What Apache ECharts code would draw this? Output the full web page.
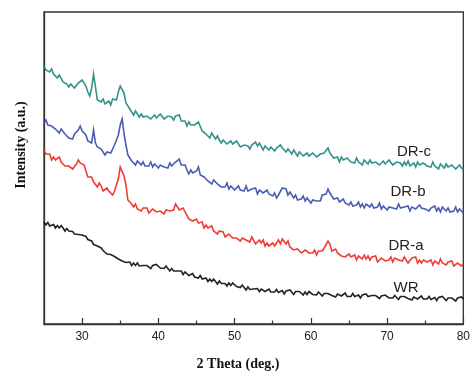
<!DOCTYPE html>
<html>
<head>
<meta charset="utf-8">
<script src="https://cdn.jsdelivr.net/npm/echarts@6/dist/echarts.min.js"></script>
<style>html,body{margin:0;padding:0;background:#fff;}#c{width:473px;height:373px;}</style>
</head>
<body>
<div id="c"></div>
<script>
const twoTheta = [
25,25.25,25.5,25.75,26,26.25,26.5,26.75,27,27.25,27.5,27.75,28,28.25,28.5,28.75,29,29.25,29.5,29.75,
30,30.25,30.5,30.75,31,31.25,31.5,31.75,32,32.25,32.5,32.75,33,33.25,33.5,33.75,34,34.25,34.5,34.75,
35,35.25,35.5,35.75,36,36.25,36.5,36.75,37,37.25,37.5,37.75,38,38.25,38.5,38.75,39,39.25,39.5,39.75,
40,40.25,40.5,40.75,41,41.25,41.5,41.75,42,42.25,42.5,42.75,43,43.25,43.5,43.75,44,44.25,44.5,44.75,
45,45.25,45.5,45.75,46,46.25,46.5,46.75,47,47.25,47.5,47.75,48,48.25,48.5,48.75,49,49.25,49.5,49.75,
50,50.25,50.5,50.75,51,51.25,51.5,51.75,52,52.25,52.5,52.75,53,53.25,53.5,53.75,54,54.25,54.5,54.75,
55,55.25,55.5,55.75,56,56.25,56.5,56.75,57,57.25,57.5,57.75,58,58.25,58.5,58.75,59,59.25,59.5,59.75,
60,60.25,60.5,60.75,61,61.25,61.5,61.75,62,62.25,62.5,62.75,63,63.25,63.5,63.75,64,64.25,64.5,64.75,
65,65.25,65.5,65.75,66,66.25,66.5,66.75,67,67.25,67.5,67.75,68,68.25,68.5,68.75,69,69.25,69.5,69.75,
70,70.25,70.5,70.75,71,71.25,71.5,71.75,72,72.25,72.5,72.75,73,73.25,73.5,73.75,74,74.25,74.5,74.75,
75,75.25,75.5,75.75,76,76.25,76.5,76.75,77,77.25,77.5,77.75,78,78.25,78.5,78.75,79,79.25,79.5,79.75,
80
];

const drC = [
258,254,256,252, 255,250,250,246, 249,247,242,244, 240,237,240,241, 236,237,241,242,
244,245,238,232, 228,236,250,237, 224,226,222,225, 220,221,223,219, 225,224,224,232,
238,236,231,221, 221,215,214,209, 213,211,207,210, 207,205,208,210, 205,207,209,206,
205,210,208,205, 203,208,206,207, 204,208,206,209, 203,202,203,198, 202,199,197,199,
201,202,203,193, 195,190,190,186, 191,189,185,188, 184,181,184,186, 180,181,183,180,
179,183,180,177, 175,179,177,178, 175,179,177,182, 178,181,180,174, 178,176,174,177,
176,173,176,174, 179,176,178,172, 175,173,170,174, 171,168,172,173, 168,170,171,168,
167,171,169,167, 165,170,169,171, 170,176,171,173, 166,165,167,162, 167,164,163,166,
165,162,164,161, 166,162,162,159, 164,163,160,164, 161,159,162,164, 159,161,163,160,
159,164,162,159, 157,162,160,161, 158,162,159,163, 158,159,161,157, 162,159,158,161,
161,158,160,157, 162,158,158,155, 160,159,156,160, 157,155,159,160, 155,157,159,156,
155
];

const drB = [
201,204,199,201, 198,200,195,197, 191,195,193,190, 191,186,187,185, 190,188,194,198,
193,192,189,183, 182,181,194,181, 177,178,175,175, 169,172,174,171, 172,179,180,189,
199,205,190,179, 169,170,163,165, 159,163,162,159, 162,158,160,158, 162,157,160,161,
156,159,160,157, 159,156,161,158, 158,162,162,165, 159,160,159,154, 150,154,151,151,
153,157,149,150, 147,149,143,145, 140,144,143,140, 142,137,139,137, 141,135,138,139,
134,136,138,134, 136,133,138,133, 132,135,134,136, 130,134,134,131, 129,134,130,129,
128,131,126,129, 130,136,135,135, 129,132,129,126, 129,124,126,125, 128,123,126,127,
121,124,126,123, 125,123,129,128, 130,135,131,130, 125,127,126,122, 121,125,121,119,
119,122,118,120, 119,122,117,120, 116,120,119,117, 120,116,118,117, 121,115,118,119,
114,117,119,116, 118,115,120,116, 115,117,116,118, 113,117,118,115, 114,119,116,115,
115,117,113,116, 115,118,113,116, 112,117,116,113, 116,112,114,113, 117,112,115,116,
111
];

const drA = [
174,170,170,170, 164,167,164,162, 167,162,164,158, 160,158,160,155, 157,160,164,161,
163,159,157,147, 148,147,142,141, 137,141,138,133, 134,136,133,135, 129,133,133,145,
157,157,148,139, 124,125,120,117, 120,115,117,113, 116,114,116,111, 113,115,117,112,
114,113,115,110, 114,115,113,115, 114,120,119,114, 115,116,112,113, 105,107,103,105,
105,101,101,102, 96,99,96,94, 98,93,95,90, 93,91,92,87, 88,90,91,86,
87,86,88,83, 86,87,84,85, 82,87,85,80, 82,84,81,84, 78,81,78,80,
81,78,80,84, 80,85,84,80, 83,77,79,74, 76,75,76,71, 73,74,76,71,
72,71,74,69, 73,75,73,76, 77,83,80,73, 74,75,71,73, 68,70,67,69,
70,67,68,69, 64,68,66,65, 69,65,68,64, 67,66,68,62, 64,66,68,63,
65,64,67,62, 66,67,64,65, 63,67,65,61, 63,66,64,67, 61,64,61,64,
65,62,62,64, 59,63,61,60, 65,61,63,59, 62,61,63,58, 60,61,63,58,
60
];

const wr = [
101.7,99,101.5,98, 99,99.5,96,98.5, 96,98.5,96,93, 95.5,93,94,92.5, 90,92,89.5,91.5,
89,87,87.5,84.5, 86,83,79.5,81, 78,78.5,76,73.5, 74,70,71.5,69.5, 67.5,67.5,69,65,
66,63,65,61.5, 62,62,58.5,61, 58.5,61,58,56, 58.5,56.5,58.5,57.5, 55.5,58.5,56.5,59.5,
57.5,56,58,55.5, 58,55.5,53,55.5, 53,54.5,53,51.5, 53,49.5,52,50, 48.5,49,50.5,47,
48.5,46,48.5,45, 45.5,46,42.5,45, 42.5,45,42.5,40, 43,40.5,42,40.5, 38,41,38.5,41,
39,37.5,39,36.5, 39,36.5,34,37, 34.5,36.5,35,34, 35.5,32.5,35,34, 32.5,33.5,35,32,
34,32,34.5,31.5, 32.5,33.5,30,33, 31,34,32,29.5, 32.5,30.5,32.5,31, 29,32,29.5,32.5,
30.5,29.5,31,29, 32,30,28,30.5, 28.5,30.5,29.5,28.5, 30.5,27,30,29, 28,29,31,27.5,
29.5,27.5,30.5,27.5, 28.5,29,26,29, 27,30,27.5,25.5, 28.5,26.5,28.5,27.5, 25.5,28,26,29,
27,26,28,26, 28.5,26.5,24.5,27.5, 25.5,27.5,26.5,25.5, 27,24,27,26, 25,26,28,25,
27,25,27.5,24.5, 25.5,26.5,23.5,26.5, 24.5,27.5,25.5,23.5, 26,24,26,25, 23,26,24,27,
25
];

const seriesNames = ['DR-c', 'DR-b', 'DR-a', 'WR'];
const seriesValues = [drC, drB, drA, wr];
const seriesColors = ['#23897f', '#3a4fac', '#ee2c25', '#111111'];
const majorTicks = [30, 40, 50, 60, 70, 80];
const minorTicks = [35, 45, 55, 65, 75];

const chart = echarts.init(document.getElementById('c'), null, {renderer: 'canvas'});

const series = seriesValues.map((vals, k) => ({
  name: seriesNames[k],
  type: 'line',
  xAxisIndex: 0,
  yAxisIndex: 0,
  showSymbol: false,
  symbol: 'none',
  data: vals.map((v, i) => [twoTheta[i], v]),
  lineStyle: {color: seriesColors[k], width: 1.6, opacity: 0.92, join: 'miter'},
  itemStyle: {color: seriesColors[k]},
  animation: false,
  silent: true
}));

chart.setOption({
  animation: false,
  backgroundColor: '#fff',
  grid: {left: 44, right: 5, top: 12, bottom: 49, show: true, borderColor: '#333', borderWidth: 1.3, containLabel: false},
  xAxis: [{
    type: 'value', min: 25, max: 80,
    axisLine: {show: true, lineStyle: {color: '#333', width: 1.3}},
    axisTick: {show: true, inside: true, length: 6, customValues: majorTicks, lineStyle: {color: '#333', width: 1.2}},
    axisLabel: {show: true, customValues: majorTicks, margin: 7, color: '#222', fontSize: 12, fontFamily: 'Liberation Sans, Arial, sans-serif'},
    splitLine: {show: false}
  }, {
    type: 'value', min: 25, max: 80, position: 'bottom', gridIndex: 0,
    axisLine: {show: false},
    axisTick: {show: true, inside: true, length: 3.5, customValues: minorTicks, lineStyle: {color: '#333', width: 1.2}},
    axisLabel: {show: false},
    splitLine: {show: false}
  }],
  yAxis: {
    type: 'value', min: 0, max: 312,
    axisLine: {show: true, lineStyle: {color: '#333', width: 1.3}},
    axisTick: {show: false},
    axisLabel: {show: false},
    splitLine: {show: false}
  },
  series: series,
  graphic: [
    {type: 'text', x: 238, y: 364, style: {text: '2 Theta (deg.)', font: 'bold 14px "Liberation Serif", "Times New Roman", serif', fill: '#111', align: 'center', verticalAlign: 'middle'}},
    {type: 'text', x: 21, y: 145, rotation: Math.PI / 2, style: {text: 'Intensity (a.u.)', font: 'bold 14px "Liberation Serif", "Times New Roman", serif', fill: '#111', align: 'center', verticalAlign: 'middle'}},
    {type: 'text', x: 414, y: 152, style: {text: 'DR-c', font: '15px "Liberation Sans", Arial, sans-serif', fill: '#222', align: 'center', verticalAlign: 'middle'}},
    {type: 'text', x: 408, y: 192, style: {text: 'DR-b', font: '15px "Liberation Sans", Arial, sans-serif', fill: '#222', align: 'center', verticalAlign: 'middle'}},
    {type: 'text', x: 406, y: 246, style: {text: 'DR-a', font: '15px "Liberation Sans", Arial, sans-serif', fill: '#222', align: 'center', verticalAlign: 'middle'}},
    {type: 'text', x: 406, y: 288, style: {text: 'WR', font: '15px "Liberation Sans", Arial, sans-serif', fill: '#222', align: 'center', verticalAlign: 'middle'}}
  ]
});
</script>
</body>
</html>
